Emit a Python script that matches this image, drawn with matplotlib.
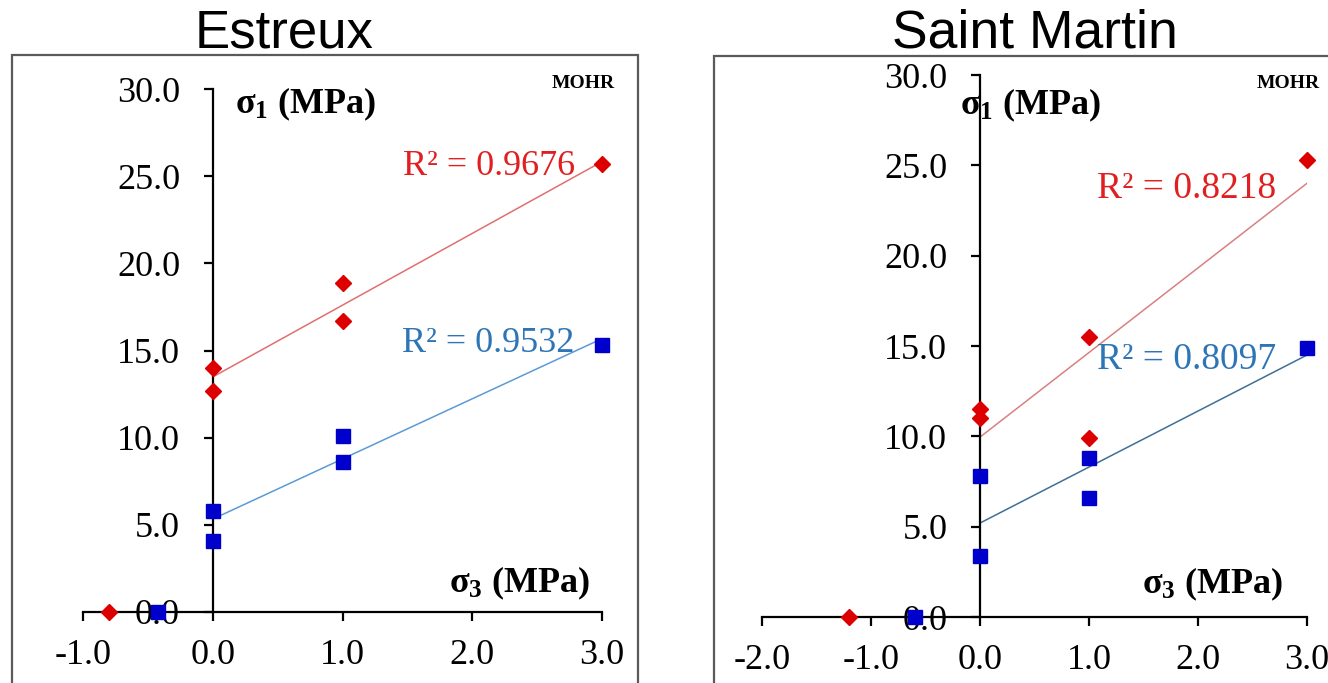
import numpy as np
import matplotlib
matplotlib.use("Agg")
import matplotlib.pyplot as plt
from matplotlib.patches import Rectangle
from matplotlib.ticker import FormatStrFormatter

plt.rcParams['font.family'] = ['Liberation Serif', 'DejaVu Serif']
plt.rcParams['mathtext.fontset'] = 'custom'
plt.rcParams['mathtext.rm'] = 'Liberation Serif'
plt.rcParams['mathtext.it'] = 'Liberation Serif:italic'
plt.rcParams['mathtext.bf'] = 'Liberation Serif:bold'

# Estreux
est_s3_peak = [-0.8, 0.0, 0.0, 1.0, 1.0, 3.0]
est_s1_peak = [0.0, 14.0, 12.7, 18.9, 16.7, 25.7]
est_s3_res = [-0.42, 0.0, 0.0, 1.0, 1.0, 3.0]
est_s1_res = [0.0, 5.8, 4.1, 10.1, 8.6, 15.3]
est_r2 = ["R² = 0.9676", "R² = 0.9532"]

# Saint Martin
stm_s3_peak = [-1.2, 0.0, 0.0, 1.0, 1.0, 3.0]
stm_s1_peak = [0.0, 11.5, 11.0, 15.5, 9.9, 25.3]
stm_s3_res = [-0.6, 0.0, 0.0, 1.0, 1.0, 3.0]
stm_s1_res = [0.0, 7.8, 3.4, 8.8, 6.6, 14.9]
stm_r2 = ["R² = 0.8218", "R² = 0.8097"]

W, H = 1328, 683
fig = plt.figure(figsize=(W / 100, H / 100), dpi=100)

RED = "#DD0000"
BLUE = "#0000CC"


def fx(px):
    return px / W


def fy(py):
    return 1 - py / H


def trend(x, y):
    x = np.array(x)
    y = np.array(y)
    m = x >= 0
    k, b = np.polyfit(x[m], y[m], 1)
    xs = np.array([0.0, x.max()])
    return xs, k * xs + b


def panel(rect, xlim, s3p, s1p, s3r, s1r, r2, r2pos, lab1, lab3, lcol_r, lcol_b, r2size):
    ax = fig.add_axes(rect)
    ax.set_xlim(*xlim)
    ax.set_ylim(0, 30)
    ax.set_xticks(np.arange(xlim[0], xlim[1] + 0.5, 1.0))
    ax.set_yticks(np.arange(0, 31, 5))
    ax.xaxis.set_major_formatter(FormatStrFormatter('%.1f'))
    ax.yaxis.set_major_formatter(FormatStrFormatter('%.1f'))
    for s in ['top', 'right']:
        ax.spines[s].set_visible(False)
    ax.spines['left'].set_position(('data', 0))
    ax.spines['bottom'].set_position(('data', 0))
    for s in ['left', 'bottom']:
        ax.spines[s].set_linewidth(1.6)
    ax.tick_params(axis='both', direction='out', length=6.5, width=1.6,
                   labelsize=26, colors='black')
    ax.tick_params(axis='y', pad=17)
    ax.tick_params(axis='x', pad=13)
    ax.patch.set_visible(False)

    xr, yr = trend(s3p, s1p)
    ax.plot(xr, yr, color=lcol_r, lw=1.1, zorder=2)
    xb, yb = trend(s3r, s1r)
    ax.plot(xb, yb, color=lcol_b, lw=1.1, zorder=2)
    ax.plot(s3p, s1p, ls='none', marker='D', ms=8.5, color=RED, mec=RED,
            clip_on=False, zorder=4)
    ax.plot(s3r, s1r, ls='none', marker='s', ms=10, color=BLUE, mec=BLUE,
            clip_on=False, zorder=4)

    ax.text(r2pos[0][0], r2pos[0][1], r2[0], color="#E02020", fontsize=r2size,
            ha='right', va='baseline')
    ax.text(r2pos[1][0], r2pos[1][1], r2[1], color="#2E75B6", fontsize=r2size,
            ha='right', va='baseline')
    ax.text(lab1[0], lab1[1], r"$\mathbf{\sigma_1}$ (MPa)", fontsize=26,
            fontweight='bold', ha='left', va='baseline')
    ax.text(lab3[0], lab3[1], r"$\mathbf{\sigma_3}$ (MPa)", fontsize=26,
            fontweight='bold', ha='right', va='baseline')
    return ax


# frames
fig.add_artist(Rectangle((fx(12), -0.1), fx(638 - 12), fy(55) + 0.1,
                         transform=fig.transFigure, fill=False,
                         ec='#5a5a5a', lw=1.6))
fig.add_artist(Rectangle((fx(714), -0.1), 0.5, fy(56) + 0.1,
                         transform=fig.transFigure, fill=False,
                         ec='#5a5a5a', lw=1.6))

panel([fx(83), 1 - 612 / H, fx(602 - 83), (612 - 89) / H], (-1, 3),
      est_s3_peak, est_s1_peak, est_s3_res, est_s1_res, est_r2,
      [(2.79, 25.07), (2.79, 14.9)], (0.17, 28.6), (2.91, 1.15),
      "#E07070", "#5B9BD5", 26)

panel([fx(762), 1 - 617 / H, fx(1307 - 762), (617 - 75) / H], (-2, 3),
      stm_s3_peak, stm_s1_peak, stm_s3_res, stm_s1_res, stm_r2,
      [(2.72, 23.2), (2.72, 13.7)], (-0.18, 27.8), (2.78, 1.33),
      "#D98080", "#3F6F96", 27)

fig.text(fx(615), fy(88), "MOHR", fontsize=14, fontweight='bold', ha='right', va='baseline')
fig.text(fx(1320), fy(88), "MOHR", fontsize=14, fontweight='bold', ha='right', va='baseline')

fig.text(fx(284), fy(47), "Estreux", fontsize=38, family='Liberation Sans',
         ha='center', va='baseline')
fig.text(fx(1035), fy(47), "Saint Martin", fontsize=38.5, family='Liberation Sans',
         ha='center', va='baseline')

fig.savefig("out.png", dpi=100)
